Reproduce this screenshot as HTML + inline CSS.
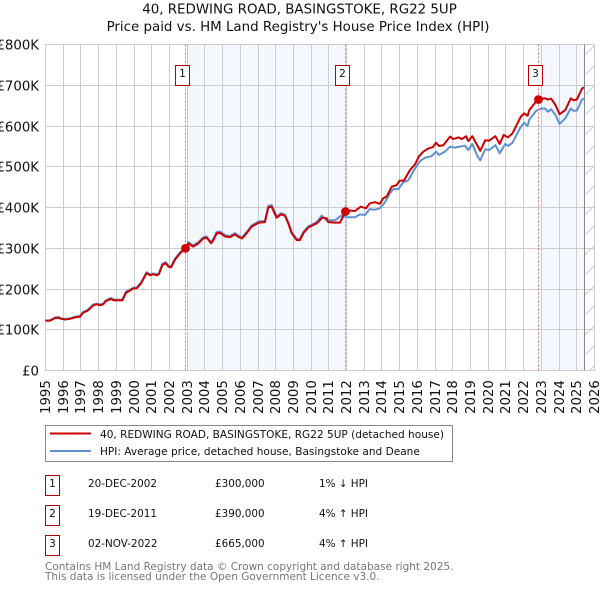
<!DOCTYPE html>
<html>
<head>
<meta charset="utf-8">
<title>40, REDWING ROAD, BASINGSTOKE, RG22 5UP</title>
<style>
html,body{margin:0;padding:0;background:#fff;width:600px;height:590px;overflow:hidden}
svg{display:block}
text{font-family:"DejaVu Sans","Liberation Sans",sans-serif;fill:#111}
</style>
</head>
<body>
<svg id="chart" xmlns="http://www.w3.org/2000/svg" width="600" height="590" viewBox="0 0 600 590">
  <defs>
    <pattern id="hatch" patternUnits="userSpaceOnUse" width="20" height="20">
      <line x1="0" y1="20" x2="20" y2="0" stroke="#cccccc" stroke-width="1"/>
    </pattern>
  </defs>
  <text x="299.5" y="13.5" text-anchor="middle" font-size="13.4">40, REDWING ROAD, BASINGSTOKE, RG22 5UP</text>
  <text x="298" y="31" text-anchor="middle" font-size="13.4">Price paid vs. HM Land Registry's House Price Index (HPI)</text>
  <g id="bands"></g>
  <g id="grid"></g>
  <g id="series"></g>
  <g id="sales"></g>
  <g id="ticks"></g>

  <g>
    <rect x="45.5" y="425.5" width="407" height="36" fill="#fff" stroke="#888888" stroke-width="1"/>
    <line x1="50" x2="91" y1="433.5" y2="433.5" stroke="#cc0000" stroke-width="2"/>
    <text x="100" y="438" font-size="10.55">40, REDWING ROAD, BASINGSTOKE, RG22 5UP (detached house)</text>
    <line x1="50" x2="91" y1="451" y2="451" stroke="#5f90d0" stroke-width="2"/>
    <text x="100" y="455" font-size="10.55">HPI: Average price, detached house, Basingstoke and Deane</text>
  </g>

  <g>
    <g>
      <rect x="45.5" y="475.5" width="14" height="20" fill="#fff" stroke="#bb0000"/>
      <text x="52.5" y="487" text-anchor="middle" font-size="10.5">1</text>
      <text x="88" y="487" font-size="10.4">20-DEC-2002</text>
      <text x="215" y="487" font-size="10.4">£300,000</text>
      <text x="319" y="487" font-size="10.4">1% ↓ HPI</text>
    </g>
    <g>
      <rect x="45.5" y="505.5" width="14" height="20" fill="#fff" stroke="#bb0000"/>
      <text x="52.5" y="517" text-anchor="middle" font-size="10.5">2</text>
      <text x="88" y="517" font-size="10.4">19-DEC-2011</text>
      <text x="215" y="517" font-size="10.4">£390,000</text>
      <text x="319" y="517" font-size="10.4">4% ↑ HPI</text>
    </g>
    <g>
      <rect x="45.5" y="535.5" width="14" height="20" fill="#fff" stroke="#bb0000"/>
      <text x="52.5" y="547" text-anchor="middle" font-size="10.5">3</text>
      <text x="88" y="547" font-size="10.4">02-NOV-2022</text>
      <text x="215" y="547" font-size="10.4">£665,000</text>
      <text x="319" y="547" font-size="10.4">4% ↑ HPI</text>
    </g>
  </g>

  <text x="45" y="570" font-size="10.5" style="fill:#777">Contains HM Land Registry data © Crown copyright and database right 2025.</text>
  <text x="45" y="580" font-size="10.5" style="fill:#777">This data is licensed under the Open Government Licence v3.0.</text>
</svg>
<script>
const yearTicks = [1995,1996,1997,1998,1999,2000,2001,2002,2003,2004,2005,2006,2007,2008,2009,2010,2011,2012,2013,2014,2015,2016,2017,2018,2019,2020,2021,2022,2023,2024,2025,2026];
const priceTicks = [0,100,200,300,400,500,600,700,800];
const priceTickLabels = ['£0','£100K','£200K','£300K','£400K','£500K','£600K','£700K','£800K'];

const priceYears = [1995,1995.25,1995.55,1995.76,1995.87,1996.1,1996.4,1996.67,1996.95,1997.13,1997.36,1997.7,1997.9,1998.08,1998.26,1998.4,1998.7,1998.87,1999.34,1999.55,1999.77,1999.94,2000.15,2000.4,2000.7,2000.9,2001.09,2001.28,2001.4,2001.6,2001.79,2001.94,2002.09,2002.3,2002.6,2002.92,2003.06,2003.34,2003.63,2003.91,2004.1,2004.35,2004.48,2004.67,2004.86,2005.14,2005.42,2005.7,2005.89,2006.1,2006.36,2006.64,2007.05,2007.39,2007.58,2007.77,2008.05,2008.3,2008.52,2008.71,2008.9,2009.18,2009.37,2009.56,2009.84,2010.31,2010.63,2010.88,2010.97,2011.35,2011.63,2011.75,2011.93,2012.1,2012.47,2012.8,2013.1,2013.3,2013.6,2013.88,2014.07,2014.26,2014.55,2014.83,2015.0,2015.24,2015.58,2015.87,2016.08,2016.33,2016.62,2016.87,2017.05,2017.22,2017.47,2017.84,2018.03,2018.32,2018.51,2018.75,2018.87,2019.1,2019.55,2019.83,2020.05,2020.4,2020.65,2020.87,2021.12,2021.37,2021.84,2022.03,2022.22,2022.32,2022.7,2022.84,2023.2,2023.37,2023.55,2023.8,2024.03,2024.35,2024.66,2024.82,2025.0,2025.3,2025.41];
const priceValues = [122,122,129,129,127,125,127,130.5,132,142,146,160,162.5,160,162.5,170,175.5,172,172,191,196,201,201.7,214,238.5,234,236,233.6,236,259,263,255,253,271,287.6,300,312,304,312,324,326,312,320,337,337.5,329,327,334,328,324,337,353,363,364,400,402,375,383,380,361,337,320,320,337,351,361,375,373.5,364,363,363,373,390,393,391.4,402,398,410,413,409,422.6,426.6,451,455,466,466,492,506,525,537,545,548,559,551,553,574,568,572,568,575,563,575,539,565,564,575,556,578,572,582,623,631,625,639,660,665,668,665,667,651,629,639,668,663,665,692,695];

const hpiYears = [1995,1995.25,1995.55,1995.76,1995.87,1996.1,1996.4,1996.67,1996.95,1997.13,1997.36,1997.7,1997.9,1998.08,1998.26,1998.4,1998.7,1998.87,1999.34,1999.55,1999.77,1999.94,2000.15,2000.4,2000.7,2000.9,2001.09,2001.28,2001.4,2001.6,2001.79,2001.94,2002.09,2002.3,2002.6,2002.97,2003.06,2003.34,2003.63,2003.91,2004.1,2004.35,2004.48,2004.67,2004.86,2005.14,2005.42,2005.7,2005.89,2006.1,2006.36,2006.64,2007.05,2007.39,2007.58,2007.77,2008.05,2008.3,2008.52,2008.71,2008.9,2009.18,2009.37,2009.56,2009.84,2010.31,2010.6,2010.88,2011.35,2011.75,2011.97,2012.47,2012.76,2013.04,2013.3,2013.6,2013.88,2014.17,2014.45,2014.64,2014.92,2015.2,2015.49,2015.87,2016.15,2016.43,2016.8,2017.05,2017.22,2017.55,2017.84,2018.12,2018.69,2018.87,2019.1,2019.4,2019.55,2019.83,2020.05,2020.4,2020.65,2020.96,2021.12,2021.37,2021.84,2022.03,2022.22,2022.32,2022.7,2022.99,2023.2,2023.37,2023.55,2023.8,2024.03,2024.35,2024.66,2024.82,2025.0,2025.3,2025.41];
const hpiValues = [123,123,130,131,128,126,128,132,134,144,148,162,164,162,164,172,178,174,174,194,198,203,204,216,241,236,238,236,238,262,266,257,255,274,290,303,315,307,315,327,329,315,323,340,341,332,330,337,331,327,340,356,366,367,404,406,378,386,383,364,340,323,323,340,354,364,380,367.6,369,381.5,376,376,383,381.6,396,394.6,398,413,435,445,445,462,467,496,514,522,526,537,529,537,549,547,552,541,556,525,516,543,541,553,533,556,551,559,598,608,600,616,637,643,643,635,641,627,605,619,643,637,638,665,667];

const saleYears = [2002.92,2011.93,2022.84];
const saleValues = [300,390,665];
const saleLabels = ['1','2','3'];
const bandRanges = [[2003,2012],[2023,2025.41]];
const lastDataYear = 2025.41;

const NS = 'http://www.w3.org/2000/svg';
const xOf = year => 45.5 + (year - 1995) * 549 / 31;
const yOf = value => 370.5 - value * 326 / 800;
const plotTop = yOf(800), plotBottom = yOf(0), plotLeft = xOf(1995), plotRight = xOf(2026);
const crisp = v => Math.round(v - 0.5) + 0.5;

function make(tag, attrs, parent) {
  const el = document.createElementNS(NS, tag);
  for (const k in attrs) el.setAttribute(k, attrs[k]);
  parent.appendChild(el);
  return el;
}
const bands = document.getElementById('bands');
const grid = document.getElementById('grid');
const series = document.getElementById('series');
const sales = document.getElementById('sales');
const ticks = document.getElementById('ticks');

bandRanges.forEach(range => {
  const r = make('rect', {x: xOf(range[0]), y: plotTop, width: xOf(range[1]) - xOf(range[0]), height: plotBottom - plotTop, fill: '#f4f7fe'}, bands);
  
  
});
const hatch = make('rect', {x: xOf(lastDataYear), y: plotTop, width: plotRight - xOf(lastDataYear), height: plotBottom - plotTop, fill: 'url(#hatch)'}, bands);



yearTicks.forEach(year => {
  const x = crisp(xOf(year));
  const line = make('line', {x1: x, x2: x, y1: plotTop, y2: plotBottom, stroke: '#cccccc', 'stroke-width': 1}, grid);
  
  
  const label = make('text', {transform: 'translate(' + (x + 4.5) + ',414) rotate(-90)', 'font-size': 13.3}, ticks);
  
  
  label.textContent = year;
});
priceTicks.forEach((value, i) => {
  const y = crisp(yOf(value));
  const line = make('line', {x1: plotLeft, x2: plotRight, y1: y, y2: y, stroke: '#cccccc', 'stroke-width': 1}, grid);
  
  
  const label = make('text', {x: 39, y: y + 5, 'text-anchor': 'end', 'font-size': 13.3}, ticks);
  
  
  label.textContent = priceTickLabels[i];
});
const endLine = make('line', {x1: crisp(xOf(lastDataYear)), x2: crisp(xOf(lastDataYear)), y1: plotTop, y2: plotBottom, stroke: '#888888', 'stroke-width': 1}, grid);



function pathFor(years, values) {
  return years.map((year, i) => (i ? 'L' : 'M') + xOf(year).toFixed(2) + ' ' + yOf(values[i]).toFixed(2)).join(' ');
}
const hpiLine = make('path', {d: pathFor(hpiYears, hpiValues), fill: 'none', stroke: '#5f90d0', 'stroke-width': 2, 'stroke-linejoin': 'round'}, series);


const priceLine = make('path', {d: pathFor(priceYears, priceValues), fill: 'none', stroke: '#cc0000', 'stroke-width': 2, 'stroke-linejoin': 'round'}, series);



saleYears.forEach((year, i) => {
  const x = crisp(xOf(year));
  const guide = make('line', {x1: x, x2: x, y1: plotTop, y2: plotBottom, stroke: '#ee7080', 'stroke-width': 1, 'stroke-dasharray': '2 2'}, sales);
  
  
  const dot = make('circle', {cx: x, cy: yOf(saleValues[i]), r: 4.4, fill: '#cc0000'}, sales);
  
  
  const box = make('rect', {x: x - 10, y: 65.5, width: 14, height: 20, fill: '#fff', stroke: '#bb0000', 'stroke-width': 1}, sales);
  
  
  const label = make('text', {x: x - 3, y: 77, 'text-anchor': 'middle', 'font-size': 10.5}, sales);
  
  
  label.textContent = saleLabels[i];
});
</script>
</body>
</html>
